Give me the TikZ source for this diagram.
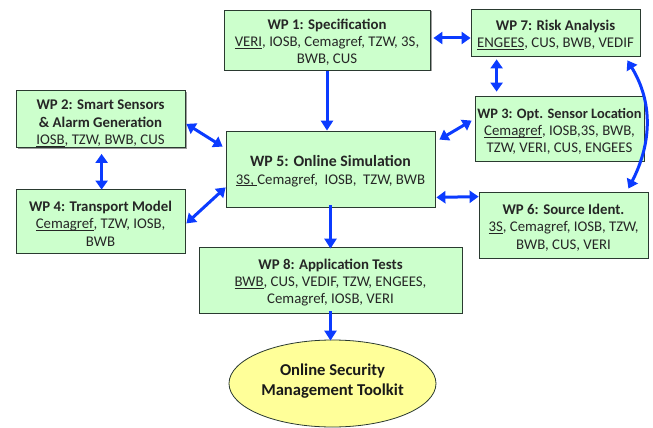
\documentclass[tikz,border=0pt]{standalone}
\usepackage{fontspec}
\setmainfont{Carlito}
\usetikzlibrary{arrows.meta,shadows,shapes.geometric}
\definecolor{wpgreen}{HTML}{CCFFCC}
\definecolor{wpblue}{HTML}{0B3BFF}
\definecolor{wpyellow}{HTML}{FFFF99}
\definecolor{wpedge}{HTML}{2A3A30}
\newcommand{\ul}[1]{\underline{\smash{#1}}}
\newcommand{\topgap}[1]{\rule{0pt}{#1}}
\tikzset{
  wpbox/.style={draw=wpedge,line width=0.8pt,fill=wpgreen,align=center,inner sep=0pt,
    font=\fontsize{14.8}{17.3}\selectfont,text=black!85},
  shade box/.style={drop shadow={shadow xshift=1.5pt,shadow yshift=-1.5pt,fill=black!55,opacity=0.7}},
  link/.style={draw=wpblue,line width=3pt},
  both/.style={link,{Triangle[width=12pt,length=9pt]}-{Triangle[width=12pt,length=9pt]}},
  one/.style={link,-{Triangle[width=12pt,length=10pt]}},
}
\begin{document}
\begin{tikzpicture}[x=1pt,y=-1pt]
\useasboundingbox (0,0) rectangle (653,428);
\node[wpbox,shade box,minimum width=206pt,minimum height=60pt] (wp1) at (327,40) {\topgap{15pt}\textbf{WP 1: Specification}\\\ul{VERI}, IOSB, Cemagref, TZW, 3S,\\BWB, CUS};
\node[wpbox,minimum width=169pt,minimum height=47pt] (wp7) at (555.5,32.5) {\topgap{15pt}\textbf{WP 7: Risk Analysis}\\\ul{ENGEES}, CUS, BWB, VEDIF};
\node[wpbox,shade box,minimum width=169pt,minimum height=57pt] (wp2) at (100.5,119) {\topgap{18.5pt}\textbf{WP 2: Smart Sensors}\\\textbf{\& Alarm Generation}\\\ul{IOSB}, TZW, BWB, CUS};
\node[wpbox,minimum width=209pt,minimum height=76pt] (wp5) at (330.5,169) {\topgap{15.5pt}\textbf{\fontsize{15.8}{17.3}\selectfont WP 5: Online Simulation}\\\ul{3S, }Cemagref,\ \ IOSB,\ \ TZW, BWB};
\node[wpbox,minimum width=169pt,minimum height=65pt] (wp3) at (559.5,128.5) {\topgap{15.5pt}\textbf{\fontsize{14.4}{17.3}\selectfont WP 3: Opt. Sensor Location}\\\ul{Cemagref}, IOSB,3S, BWB,\\TZW, VERI, CUS, ENGEES};
\node[wpbox,minimum width=169pt,minimum height=64pt] (wp4) at (100.5,221) {\topgap{15.5pt}\textbf{WP 4: Transport Model}\\\ul{Cemagref}, TZW, IOSB,\\BWB};
\node[wpbox,minimum width=169pt,minimum height=66pt] (wp6) at (563.5,225) {\topgap{15.5pt}\textbf{WP 6: Source Ident.}\\\ul{3S}, Cemagref, IOSB, TZW,\\BWB, CUS, VERI};
\node[wpbox,minimum width=263pt,minimum height=66pt] (wp8) at (330.5,280) {\topgap{15.5pt}\textbf{WP 8: Application Tests}\\\ul{BWB}, CUS, VEDIF, TZW, ENGEES,\\Cemagref, IOSB, VERI};
\node[ellipse,draw=wpedge,line width=0.8pt,fill=wpyellow,align=center,inner sep=0pt,minimum width=207pt,minimum height=87pt,font=\fontsize{16.6}{20.5}\selectfont\bfseries,text=black!90] (kit) at (332.5,383.5) {Online Security\\Management Toolkit\rule[-8pt]{0pt}{8pt}};
\draw[one] (wp1.south) ++(0,1) coordinate (a1) (a1) -- (a1 |- wp5.north);
\draw[both] ([xshift=3pt]wp1.east |- wp7.west) ++(0,5.5) coordinate (a2) (a2) -- (a2 -| wp7.west);
\draw[both] ([shift={(26,3)}]wp7.south west) -- ([shift={(22,-4)}]wp3.north west);
\draw[both] ([shift={(-3,25)}]wp3.north west) -- ([shift={(4,9)}]wp5.north east);
\draw[both] ([shift={(1,-24)}]wp2.south east) -- ([shift={(-3,16)}]wp5.north west);
\draw[both] ([shift={(86,6)}]wp2.south west) -- ([shift={(86,1)}]wp4.north west);
\draw[both] ([shift={(1,-30)}]wp4.south east) -- ([shift={(0,-20)}]wp5.south west);
\draw[both] ([shift={(1,-10)}]wp5.south east) -- ([shift={(0,5)}]wp6.north west);
\draw[both] ([shift={(-13,4)}]wp7.south east) .. controls ([shift={(12,45)}]wp7.south east) and ([shift={(4,-50)}]wp6.north east) .. ([shift={(-20,-3)}]wp6.north east);
\draw[one] ([yshift=2pt]wp5.south) -- ([yshift=-2pt]wp8.north);
\draw[one] ([yshift=2pt]wp8.south) -- ([xshift=-2pt,yshift=-1pt]kit.north);
\end{tikzpicture}
\end{document}
